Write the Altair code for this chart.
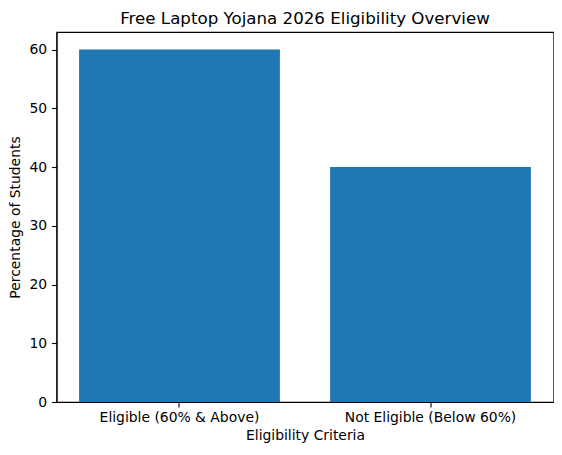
import altair as alt
import pandas as pd

categories = ["Eligible (60% & Above)", "Not Eligible (Below 60%)"]
values = [60, 40]

df = pd.DataFrame({"cat": categories, "val": values})

FONT = "DejaVu Sans"

chart = alt.Chart(df).mark_bar(color="#1f77b4").encode(
    x=alt.X("cat:N", sort=categories, title="Eligibility Criteria",
            scale=alt.Scale(paddingInner=0.2, paddingOuter=0.09),
            axis=alt.Axis(labelAngle=0, tickSize=4.9, labelPadding=4, titlePadding=4)),
    y=alt.Y("val:Q", title="Percentage of Students",
            scale=alt.Scale(domain=[0, 63], nice=False),
            axis=alt.Axis(values=[0, 10, 20, 30, 40, 50, 60], grid=False,
                          tickSize=4.9, labelPadding=5, titlePadding=6)),
).properties(
    width=497, height=370,
    title=alt.TitleParams("Free Laptop Yojana 2026 Eligibility Overview",
                          fontSize=16.67, font=FONT, fontWeight="normal",
                          color="black", offset=4, frame="group"),
    autosize=alt.AutoSizeParams(type="none"),
    padding={"left": 48.5, "top": 24, "right": 0, "bottom": 44},
).configure_view(stroke="black", strokeWidth=1.1).configure_axis(
    labelFont=FONT, titleFont=FONT, labelFontSize=13.9, titleFontSize=13.9,
    labelColor="black", titleColor="black", titleFontWeight="normal",
    domainColor="black", tickColor="black", domainWidth=1.1, tickWidth=1.1, grid=False,
)

chart.save("out.html", embed_options={"renderer": "svg", "actions": False})
